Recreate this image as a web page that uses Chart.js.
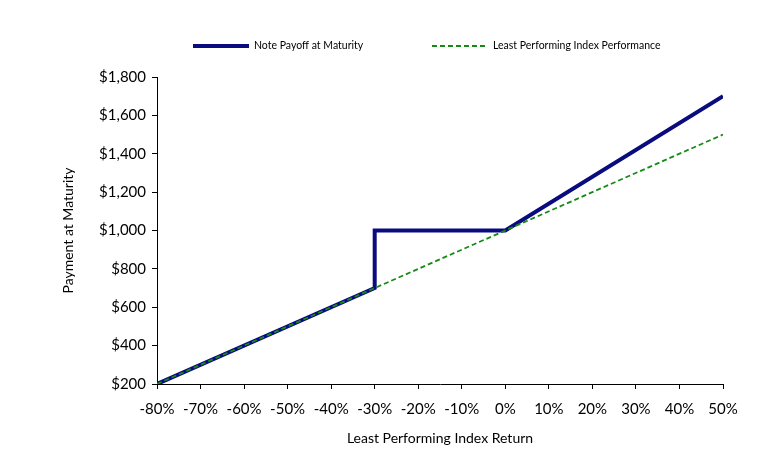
<!DOCTYPE html>
<html>
<head>
<meta charset="utf-8">
<script src="https://cdn.jsdelivr.net/npm/chart.js@4/dist/chart.umd.min.js"></script>
<style>
  html, body { margin: 0; padding: 0; background: #fff; }
  #wrap { width: 779px; height: 459px; }
</style>
</head>
<body>
<div id="wrap"><canvas id="payoffChart"></canvas></div>
<script>
/* ===============================
   DATA
================================ */
const payoffX = [-80, -30, -30, 0, 50];
const payoffY = [200, 700, 1000, 1000, 1700];
const indexX = [-80, 50];
const indexY = [200, 1500];
const xTicks = [-80, -70, -60, -50, -40, -30, -20, -10, 0, 10, 20, 30, 40, 50];
const yTicks = [200, 400, 600, 800, 1000, 1200, 1400, 1600, 1800];
const seriesNames = ['Note Payoff at Maturity', 'Least Performing Index Performance'];

const toPoints = (xs, ys) => xs.map((x, i) => ({ x: x, y: ys[i] }));
const FONT = 'Lato, "Open Sans", sans-serif';

/* ===============================
   LEGEND (line samples + text across the top)
================================ */
const legendSpots = [193, 432];   // left edge of each sample line
const topLegend = {
  id: 'topLegend',
  afterDraw(chart) {
    const ctx = chart.ctx;
    ctx.save();
    ctx.font = '10.5px ' + FONT;
    ctx.textBaseline = 'middle';
    chart.data.datasets.forEach((ds, i) => {
      const x0 = legendSpots[i];
      const y = 46;
      ctx.strokeStyle = ds.borderColor;
      ctx.lineWidth = ds.borderWidth;
      ctx.setLineDash(ds.borderDash || []);
      ctx.beginPath();
      ctx.moveTo(x0, y);
      ctx.lineTo(x0 + 56, y);
      ctx.stroke();
      ctx.setLineDash([]);
      ctx.fillStyle = '#000';
      ctx.fillText(ds.label, x0 + 61, y);
    });
    ctx.restore();
  }
};

/* ===============================
   CHART
================================ */
const payoffChart = new Chart(document.getElementById('payoffChart'), {
  type: 'line',
  data: {
    datasets: [{
      label: seriesNames[0],
      data: toPoints(payoffX, payoffY),
      borderColor: '#0b0b80',
      backgroundColor: '#0b0b80',
      borderWidth: 4,
      pointRadius: 0,
      tension: 0,
      order: 2
    }, {
      label: seriesNames[1],
      data: toPoints(indexX, indexY),
      borderColor: '#168a16',
      backgroundColor: '#168a16',
      borderWidth: 1.8,
      borderDash: [5, 3],
      pointRadius: 0,
      tension: 0,
      order: 1
    }]
  },
  options: {
    responsive: true,
    maintainAspectRatio: false,
    animation: false,
    layout: { padding: { left: 60, right: 56, top: 77, bottom: 0 } },
    plugins: {
      tooltip: { enabled: false },
      legend: { display: false }
    },
    scales: {
      x: {
        type: 'linear',
        min: -80,
        max: 50,
        afterBuildTicks: s => { s.ticks = xTicks.map(v => ({ value: v })); },
        afterFit: s => { s.height = 75; },
        ticks: {
          color: '#000',
          font: { family: FONT, size: 15 },
          padding: 11,
          maxRotation: 0,
          autoSkip: false,
          callback: v => v + '%'
        },
        grid: { drawOnChartArea: false, drawTicks: true, tickLength: 5, color: '#000' },
        border: { display: true, color: '#000', width: 1 },
        title: {
          display: true,
          text: 'Least Performing Index Return',
          color: '#000',
          font: { family: FONT, size: 14 },
          padding: { top: 4, bottom: 12 }
        }
      },
      y: {
        min: 200,
        max: 1800,
        afterBuildTicks: s => { s.ticks = yTicks.map(v => ({ value: v })); },
        afterFit: s => { s.width = 97; },
        ticks: {
          color: '#000',
          font: { family: FONT, size: 15 },
          padding: 6,
          callback: v => '$' + v.toLocaleString('en-US')
        },
        grid: { drawOnChartArea: false, drawTicks: true, tickLength: 5, color: '#000' },
        border: { display: true, color: '#000', width: 1 },
        title: {
          display: true,
          text: 'Payment at Maturity',
          color: '#000',
          font: { family: FONT, size: 14 },
          padding: { top: 0, bottom: 4 }
        }
      }
    }
  },
  plugins: [topLegend]
});
</script>
</body>
</html>
